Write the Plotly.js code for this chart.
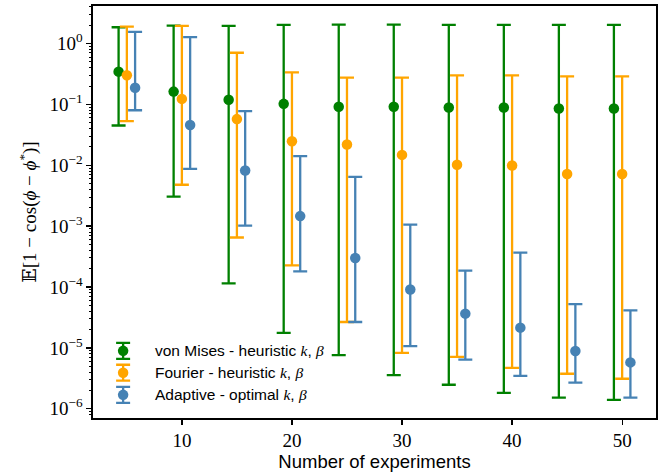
<!DOCTYPE html>
<html>
<head>
<meta charset="utf-8">
<script src="https://cdn.plot.ly/plotly-3.0.1.min.js"></script>
<style>html,body{margin:0;padding:0;background:#fff;}</style>
</head>
<body>
<div id="chart" style="width:662px;height:476px;"></div>
<script>
// Number of experiments per group
const experiments = [5, 10, 15, 20, 25, 30, 35, 40, 45, 50];

// von Mises - heuristic k, beta
const vonMisesMean = [0.345, 0.162, 0.119, 0.102, 0.0914, 0.0914, 0.089, 0.089, 0.0857, 0.0857];
const vonMisesHigh = [1.85, 1.97, 1.95, 2.02, 2.04, 2.04, 2.02, 2.02, 2.02, 2.02];
const vonMisesLow  = [0.045, 0.00305, 1.15e-4, 1.76e-5, 7.6e-6, 3.58e-6, 2.48e-6, 1.82e-6, 1.52e-6, 1.40e-6];

// Fourier - heuristic k, beta
const fourierMean = [0.30, 0.123, 0.0573, 0.0248, 0.0219, 0.0148, 0.0102, 0.0099, 0.00716, 0.00716];
const fourierHigh = [1.9, 1.95, 0.705, 0.336, 0.275, 0.275, 0.30, 0.30, 0.289, 0.289];
const fourierLow  = [0.053, 0.00478, 6.5e-4, 2.27e-4, 2.66e-5, 8.3e-6, 7.1e-6, 4.7e-6, 3.76e-6, 3.11e-6];

// Adaptive - optimal k, beta
const adaptiveMean = [0.187, 0.0457, 0.00822, 0.00146, 3.0e-4, 9.1e-5, 3.65e-5, 2.15e-5, 8.9e-6, 5.77e-6];
const adaptiveHigh = [1.55, 1.27, 0.0774, 0.0141, 0.00646, 0.00106, 1.86e-4, 3.66e-4, 5.24e-5, 4.13e-5];
const adaptiveLow  = [0.080, 0.00873, 0.00102, 1.81e-4, 2.66e-5, 1.07e-5, 6.4e-6, 3.48e-6, 2.68e-6, 1.52e-6];

const seriesNames = [
  'von Mises - heuristic',
  'Fourier - heuristic',
  'Adaptive - optimal'
];

const xTickVals = [10, 20, 30, 40, 50];
const xTickText = ['10', '20', '30', '40', '50'];
const yTickVals = [1e-6, 1e-5, 1e-4, 1e-3, 1e-2, 1e-1, 1];
const yTickText = ['10<sup>−6</sup>', '10<sup>−5</sup>', '10<sup>−4</sup>', '10<sup>−3</sup>',
                   '10<sup>−2</sup>', '10<sup>−1</sup>', '10<sup>0</sup>'];

const colors = ['green', 'orange', 'steelblue'];
const offsets = [-0.75, 0, 0.75];   // side-by-side placement within each group

const SERIF = '"Liberation Serif", "DejaVu Serif", serif';
const SANS = '"Liberation Sans", Arial, sans-serif';

function errTrace(mean, low, high, i) {
  return {
    type: 'scatter',
    mode: 'markers',
    x: experiments.map(v => v + offsets[i]),
    y: mean,
    marker: {color: colors[i], size: 10.5},
    error_y: {
      type: 'data',
      symmetric: false,
      array: high.map((h, k) => h - mean[k]),
      arrayminus: low.map((l, k) => mean[k] - l),
      color: colors[i],
      thickness: 2.3,
      width: 7
    },
    showlegend: false,
    hoverinfo: 'x+y'
  };
}

const traces = [
  errTrace(vonMisesMean, vonMisesLow, vonMisesHigh, 0),
  errTrace(fourierMean, fourierLow, fourierHigh, 1),
  errTrace(adaptiveMean, adaptiveLow, adaptiveHigh, 2)
];

// Legend glyphs (marker with error bar) drawn on an overlay axis in plot-fraction units
const legendRows = [0.163, 0.110, 0.0562];
const legendX = 0.0535;
const legendHalf = 0.0193;
seriesNames.forEach((name, i) => {
  traces.push({
    type: 'scatter', mode: 'markers',
    x: [legendX], y: [legendRows[i]],
    xaxis: 'x2', yaxis: 'y2',
    marker: {color: colors[i], size: 10.5},
    error_y: {type: 'data', array: [legendHalf], color: colors[i], thickness: 2.3, width: 7},
    showlegend: false, hoverinfo: 'skip'
  });
});

const annotations = seriesNames.map((name, i) => ({
  xref: 'x2', yref: 'y2',
  x: 0.107, y: legendRows[i],
  xanchor: 'left', yanchor: 'middle',
  showarrow: false,
  text: name + ' <span style="font-family:' + "'Liberation Serif'" + ';font-style:italic">k</span>, ' +
        '<span style="font-family:' + "'Liberation Serif'" + ';font-style:italic">β</span>',
  font: {family: SANS, size: 15.5, color: '#000'}
}));

const layout = {
  width: 662, height: 476,
  margin: {l: 93, r: 6, t: 4, b: 58, pad: 0},
  paper_bgcolor: '#fff', plot_bgcolor: '#fff',
  showlegend: false,
  xaxis: {
    range: [1.925, 53.075],
    tickmode: 'array', tickvals: xTickVals, ticktext: xTickText,
    ticks: 'outside', ticklen: 5, tickwidth: 1.3, tickcolor: '#000',
    showline: true, linecolor: '#000', linewidth: 1.6, mirror: true,
    showgrid: false, zeroline: false, automargin: true,
    tickfont: {family: SERIF, size: 19, color: '#000'},
    title: {text: 'Number of experiments', font: {family: SANS, size: 18.5, color: '#000'}, standoff: 1}
  },
  yaxis: {
    type: 'log',
    range: [-6.152, 0.616],
    tickmode: 'array', tickvals: yTickVals, ticktext: yTickText,
    ticks: 'outside', ticklen: 5, tickwidth: 1.3, tickcolor: '#000',
    minor: {ticks: 'outside', ticklen: 2.5, tickwidth: 1, tickcolor: '#000', dtick: 'D1', showgrid: false},
    showline: true, linecolor: '#000', linewidth: 1.6, mirror: true,
    showgrid: false, zeroline: false,
    tickfont: {family: SERIF, size: 19, color: '#000'},
    title: {
      text: '𝔼[1 − cos(<i>ϕ</i> − <i>ϕ</i><sup>*</sup>)]',
      font: {family: SERIF, size: 19, color: '#000'}, standoff: 8
    }
  },
  xaxis2: {overlaying: 'x', range: [0, 1], visible: false, fixedrange: true},
  yaxis2: {overlaying: 'y', range: [0, 1], visible: false, fixedrange: true},
  annotations: annotations
};

Plotly.newPlot('chart', traces, layout, {staticPlot: true, displayModeBar: false});
</script>
</body>
</html>
